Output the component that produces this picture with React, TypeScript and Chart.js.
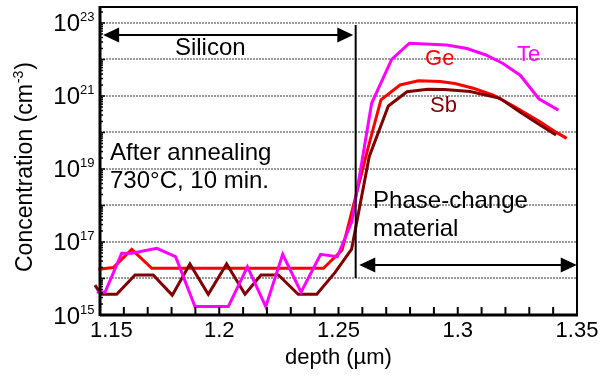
import React, { useEffect, useRef } from 'react';
import { Chart, registerables } from 'chart.js';

Chart.register(...registerables);

const FONT = '"Liberation Sans", Arial, Helvetica, sans-serif';

// Ge (red)
const depthGe = [1.1493, 1.1556, 1.1633, 1.1717, 1.1795, 1.1872, 1.195, 1.2028, 1.2105, 1.2182, 1.2259, 1.2336, 1.2437, 1.2515, 1.2624, 1.2678, 1.2758, 1.2835, 1.2926, 1.2988, 1.3065, 1.3149, 1.3233, 1.3345, 1.3415, 1.3457];
const ge = [1.8e16, 2.0e16, 6.3e16, 1.9e16, 1.9e16, 1.9e16, 1.9e16, 1.9e16, 1.9e16, 1.9e16, 1.9e16, 1.9e16, 1.9e16, 6.0e16, 3.8e19, 7.8e20, 2.0e21, 2.6e21, 2.5e21, 2.2e21, 1.63e21, 1.06e21, 5.3e20, 1.98e20, 9.9e19, 6.9e19];

// Sb (dark red)
const depthSb = [1.1479, 1.1504, 1.157, 1.1647, 1.1723, 1.1803, 1.1877, 1.1954, 1.2031, 1.2108, 1.2175, 1.2248, 1.2331, 1.2409, 1.2485, 1.2555, 1.2629, 1.2709, 1.2787, 1.2875, 1.2944, 1.3052, 1.3177, 1.3261, 1.3345, 1.3412];
const sb = [6.6e15, 3.7e15, 3.7e15, 1.25e16, 1.25e16, 3.5e15, 2.5e16, 3.7e15, 2.5e16, 3.7e15, 1.25e16, 1.25e16, 3.7e15, 3.7e15, 1.45e16, 6.4e16, 2.2e19, 5.3e20, 1.31e21, 1.53e21, 1.5e21, 1.33e21, 8.6e20, 3.65e20, 1.6e20, 8.5e19];

// Te (magenta)
const depthTe = [1.1486, 1.1521, 1.1591, 1.1633, 1.1738, 1.1817, 1.1898, 1.1967, 1.2038, 1.2118, 1.2195, 1.2266, 1.2343, 1.2425, 1.2495, 1.2556, 1.2639, 1.2723, 1.2797, 1.2954, 1.3039, 1.3118, 1.3188, 1.3263, 1.334, 1.3422];
const te = [4.3e15, 4.2e15, 4.9e16, 4.9e16, 6.7e16, 3.95e16, 1.7e15, 1.7e15, 1.7e15, 2.1e16, 1.7e15, 4.6e16, 4.2e15, 4.6e16, 3.95e16, 3.6e17, 6.3e20, 1.0e22, 2.8e22, 2.5e22, 2.0e22, 1.33e22, 7.9e21, 3.65e21, 8.4e20, 4.1e20];

// axes
const xMin = 1.15;
const xMax = 1.35;
const xLabelStep = 0.05;
const xMinorTicks = [1.16, 1.17, 1.18, 1.19, 1.2, 1.21, 1.22, 1.23, 1.24, 1.25, 1.26, 1.27, 1.28, 1.29, 1.3, 1.31, 1.32, 1.33, 1.34];
const yMin = 1e15;
const yMax = 2.74e23;
const yGridExponents = [15, 16, 17, 18, 19, 20, 21, 22, 23];
const yLabelExponents = [15, 17, 19, 21, 23];

// annotation anchors (data coordinates)
const interfaceDepth = 1.2572;
const interfaceTop = 8.8e22;
const interfaceBottom = 1.03e16;
const siliconArrow = { x1: 1.1513, x2: 1.2562, y: 4.7e22 };
const pcmArrow = { x1: 1.2587, x2: 1.3499, y: 2.34e16 };

type Note = { text: string; x: number; y: number; color: string; size: number };
const notes: Note[] = [
  { text: 'Silicon', x: 1.1814, y: 1.33e22, color: '#000', size: 24 },
  { text: 'After annealing', x: 1.1542, y: 1.77e19, color: '#000', size: 24 },
  { text: '730°C, 10 min.', x: 1.1542, y: 3.0e18, color: '#000', size: 24 },
  { text: 'Phase-change', x: 1.2645, y: 8.55e17, color: '#000', size: 24 },
  { text: 'material', x: 1.2645, y: 1.5e17, color: '#000', size: 24 },
  { text: 'Ge', x: 1.2863, y: 7.06e21, color: '#ff0000', size: 22 },
  { text: 'Te', x: 1.3248, y: 9.1e21, color: '#ff00ff', size: 22 },
  { text: 'Sb', x: 1.2884, y: 3.65e20, color: '#800000', size: 22 },
];

const pts = (xs: number[], ys: number[]) => xs.map((x, i) => ({ x, y: ys[i] }));
const fmtX = (v: number) => Number(Number(v).toFixed(2)).toString();

export default function App() {
  const ref = useRef<HTMLCanvasElement>(null);

  useEffect(() => {
    const canvas = ref.current;
    if (!canvas) return;

    const overlay = {
      id: 'overlay',
      afterDraw(chart: any) {
        const c = chart.ctx as CanvasRenderingContext2D;
        const { left, right, top, bottom } = chart.chartArea;
        const xs = chart.scales.x;
        const ys = chart.scales.y;
        const X = (v: number) => xs.getPixelForValue(v);
        const Y = (v: number) => ys.getPixelForValue(v);
        const line = (x1: number, y1: number, x2: number, y2: number) => {
          c.beginPath();
          c.moveTo(x1, y1);
          c.lineTo(x2, y2);
          c.stroke();
        };
        const head = (tx: number, ty: number, dir: number) => {
          c.beginPath();
          c.moveTo(tx, ty);
          c.lineTo(tx - dir * 16, ty - 7.5);
          c.lineTo(tx - dir * 16, ty + 7.5);
          c.closePath();
          c.fill();
        };

        c.save();
        c.strokeStyle = '#000';
        c.fillStyle = '#000';

        // frame
        c.lineWidth = 2;
        c.strokeRect(left, top, right - left, bottom - top);
        c.lineWidth = 3;
        line(left, top - 1, left, bottom + 1);
        line(left, bottom, right + 1, bottom);

        // y ticks (inside)
        c.lineWidth = 1.5;
        yGridExponents.forEach((e) => {
          const base = Math.pow(10, e);
          line(left, Y(base), left + 5, Y(base));
          for (let m = 2; m <= 9; m++) {
            const v = m * base;
            if (v <= yMax) line(left, Y(v), left + 3, Y(v));
          }
        });

        // x minor ticks (inside)
        c.lineWidth = 2;
        xMinorTicks.forEach((v) => line(X(v), bottom, X(v), bottom - 8));

        // x tick labels (first one kept inside like the original)
        c.textAlign = 'center';
        c.textBaseline = 'alphabetic';
        c.font = `22px ${FONT}`;
        xs.ticks.forEach((t: any) => {
          const s = fmtX(t.value);
          const w = c.measureText(s).width;
          const cx = Math.max(X(t.value), left + w / 2 - 10);
          c.fillText(s, cx, bottom + 22);
        });

        // y tick labels 10^n
        yLabelExponents.forEach((e) => {
          const py = Y(Math.pow(10, e));
          c.textAlign = 'right';
          c.textBaseline = 'alphabetic';
          c.font = `24px ${FONT}`;
          c.fillText('10', left - 20, py + 8.5);
          c.textAlign = 'left';
          c.font = `13px ${FONT}`;
          c.fillText(String(e), left - 20, py - 1.5);
        });

        // y axis title
        c.save();
        c.translate(31.5, (top + bottom) / 2 + 6);
        c.rotate(-Math.PI / 2);
        c.textAlign = 'left';
        c.textBaseline = 'alphabetic';
        const p1 = 'Concentration (cm';
        const p2 = '-3';
        const p3 = ')';
        c.font = `23px ${FONT}`;
        const w1 = c.measureText(p1).width;
        const w3 = c.measureText(p3).width;
        c.font = `14px ${FONT}`;
        const w2 = c.measureText(p2).width;
        let sx = -(w1 + w2 + w3 + 2) / 2;
        c.font = `23px ${FONT}`;
        c.fillText(p1, sx, 0);
        sx += w1 + 1;
        c.font = `14px ${FONT}`;
        c.fillText(p2, sx, -9);
        sx += w2 + 1;
        c.font = `23px ${FONT}`;
        c.fillText(p3, sx, 0);
        c.restore();

        // x axis title
        c.textAlign = 'center';
        c.textBaseline = 'alphabetic';
        c.font = `22px ${FONT}`;
        c.fillText('depth (\u00b5m)', (left + right) / 2, bottom + 49);

        // interface line
        c.lineWidth = 2;
        line(X(interfaceDepth), Y(interfaceTop), X(interfaceDepth), Y(interfaceBottom));

        // arrows
        const ay1 = Y(siliconArrow.y);
        line(X(siliconArrow.x1) + 10, ay1, X(siliconArrow.x2) - 10, ay1);
        head(X(siliconArrow.x1), ay1, -1);
        head(X(siliconArrow.x2), ay1, 1);
        const ay2 = Y(pcmArrow.y);
        line(X(pcmArrow.x1) + 10, ay2, X(pcmArrow.x2) - 10, ay2);
        head(X(pcmArrow.x1), ay2, -1);
        head(X(pcmArrow.x2), ay2, 1);

        // notes
        c.textAlign = 'left';
        c.textBaseline = 'alphabetic';
        notes.forEach((n) => {
          c.font = `${n.size}px ${FONT}`;
          c.fillStyle = n.color;
          c.fillText(n.text, X(n.x), Y(n.y));
        });

        c.restore();
      },
    };

    const chart = new Chart(canvas, {
      type: 'line',
      data: {
        datasets: [
          { label: 'Te', data: pts(depthTe, te), borderColor: '#ff00ff', backgroundColor: '#ff00ff', borderWidth: 3, pointRadius: 0, tension: 0, clip: false as any, order: 0 },
          { label: 'Sb', data: pts(depthSb, sb), borderColor: '#800000', backgroundColor: '#800000', borderWidth: 3, pointRadius: 0, tension: 0, clip: false as any, order: 1 },
          { label: 'Ge', data: pts(depthGe, ge), borderColor: '#ff0000', backgroundColor: '#ff0000', borderWidth: 3, pointRadius: 0, tension: 0, clip: false as any, order: 2 },
        ],
      },
      options: {
        responsive: false,
        animation: false,
        devicePixelRatio: 1,
        layout: { padding: { top: 7, right: 29, left: 0, bottom: 0 } },
        plugins: { legend: { display: false }, tooltip: { enabled: false } },
        scales: {
          x: {
            type: 'linear',
            min: xMin,
            max: xMax,
            afterFit: (s: any) => { s.height = 61; },
            grid: { display: false, drawTicks: false },
            border: { display: false },
            ticks: {
              stepSize: xLabelStep,
              autoSkip: false,
              maxRotation: 0,
              display: false,
              callback: (v: any) => fmtX(v),
            },
          },
          y: {
            type: 'logarithmic',
            min: yMin,
            max: yMax,
            afterFit: (s: any) => { s.width = 100; },
            afterBuildTicks: (s: any) => { s.ticks = yGridExponents.map((e) => ({ value: Math.pow(10, e) })); },
            grid: { color: '#9a9a9a', lineWidth: 2, drawTicks: false },
            border: { display: false, dash: [2, 1] },
            ticks: { display: false },
          },
        },
      },
      plugins: [overlay],
    } as any);

    return () => chart.destroy();
  }, []);

  return (
    <div style={{ position: 'fixed', left: 0, top: 0, width: 606, height: 376, background: '#fff' }}>
      <canvas ref={ref} width={606} height={376} style={{ display: 'block' }} />
    </div>
  );
}
